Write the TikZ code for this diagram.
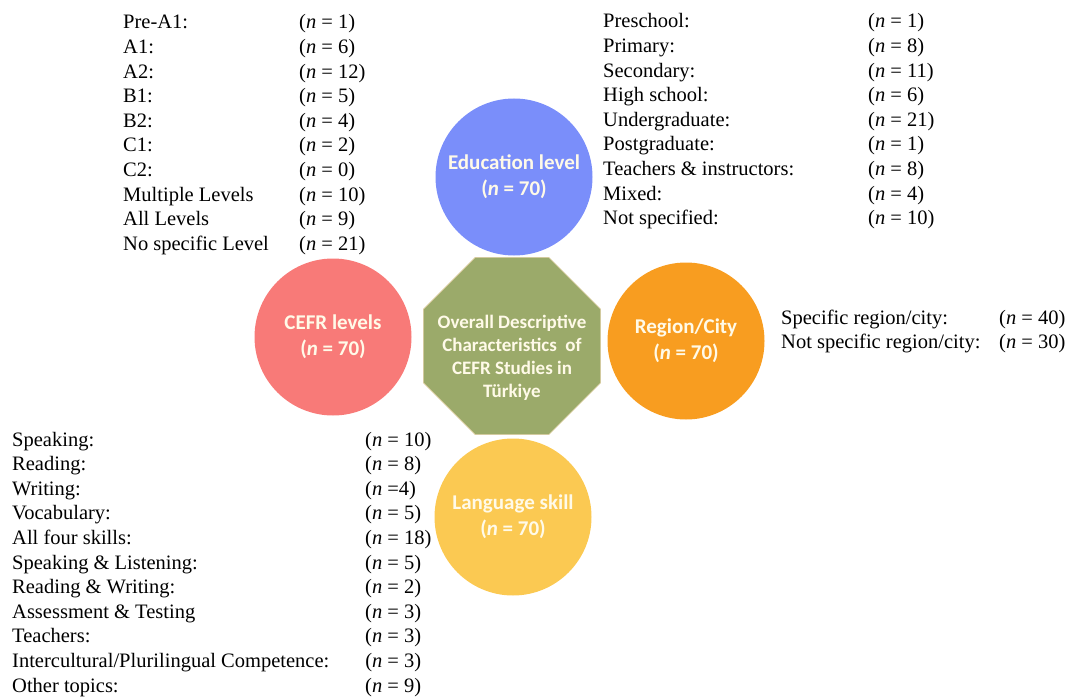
\documentclass[tikz,border=0pt]{standalone}
\usepackage{fontspec}
\setmainfont{Liberation Serif}
\newfontfamily\calfont{Carlito}
\usetikzlibrary{shapes.geometric}
\definecolor{edublue}{RGB}{122,142,250}
\definecolor{cefrred}{RGB}{248,122,120}
\definecolor{regorange}{RGB}{248,157,32}
\definecolor{skillyellow}{RGB}{251,201,82}
\definecolor{hubgreen}{RGB}{155,170,106}
\definecolor{hubedge}{RGB}{222,205,160}
\definecolor{bubbletext}{RGB}{255,250,232}
\newcommand\listfont{\fontsize{20.5}{24.6}\selectfont}
\newcommand\nval[1]{(\textit{n} = #1)}
\begin{document}
\begin{tikzpicture}[x=1pt,y=-1pt,
   bubble/.style={circle,inner sep=0pt,minimum size=157pt,text=bubbletext,align=center,
      font=\calfont\bfseries\fontsize{21}{26}\selectfont},
   listbox/.style={anchor=base west,inner sep=0pt,font=\listfont}]
   \useasboundingbox (0,0) rectangle (1077,698);
   % the four circles round the centre
   \node [bubble,fill=edublue] (edu) at (514,177) {Education level\\(\textit{n} = 70)};
   \node [bubble,fill=cefrred] (cefr) at (333,337) {CEFR levels\\(\textit{n} = 70)};
   \node [bubble,fill=regorange] (region) at (686,341) {Region/City\\(\textit{n} = 70)};
   \node [bubble,fill=skillyellow] (skill) at (513,517) {Language skill\\(\textit{n} = 70)};
   % centre octagon
   \node [regular polygon,regular polygon sides=8,minimum size=192pt,inner sep=0pt,
      fill=hubgreen,draw=hubedge,line width=0.6pt] (hub) at (512,346) {};
   \node [text=bubbletext,align=center,font=\calfont\bfseries\fontsize{19}{23}\selectfont]
      (hubtext) at ([yshift=-12pt]hub.center)
      {Overall Descriptive\\Characteristics\ \ of\\CEFR Studies in\\Türkiye};
   % CEFR levels
   \node [listbox] (levlist) at (123,29) {\begin{tabular}[t]{@{}p{176pt}@{}l@{}}
      Pre-A1: & \nval{1}\\
      A1: & \nval{6}\\
      A2: & \nval{12}\\
      B1: & \nval{5}\\
      B2: & \nval{4}\\
      C1: & \nval{2}\\
      C2: & \nval{0}\\
      Multiple Levels & \nval{10}\\
      All Levels & \nval{9}\\
      No specific Level & \nval{21}
   \end{tabular}};
   % education level
   \node [listbox] (edulist) at (603,28) {\begin{tabular}[t]{@{}p{265pt}@{}l@{}}
      Preschool: & \nval{1}\\
      Primary: & \nval{8}\\
      Secondary: & \nval{11}\\
      High school: & \nval{6}\\
      Undergraduate: & \nval{21}\\
      Postgraduate: & \nval{1}\\
      Teachers \& instructors: & \nval{8}\\
      Mixed: & \nval{4}\\
      Not specified: & \nval{10}
   \end{tabular}};
   % region/city
   \node [listbox] (reglist) at (781,324) {\begin{tabular}[t]{@{}p{218pt}@{}l@{}}
      Specific region/city: & \nval{40}\\
      Not specific region/city: & \nval{30}
   \end{tabular}};
   % language skill
   \node [listbox] (skilllist) at (12,446) {\begin{tabular}[t]{@{}p{353pt}@{}l@{}}
      Speaking: & \nval{10}\\
      Reading: & \nval{8}\\
      Writing: & (\textit{n} =4)\\
      Vocabulary: & \nval{5}\\
      All four skills: & \nval{18}\\
      Speaking \& Listening: & \nval{5}\\
      Reading \& Writing: & \nval{2}\\
      Assessment \& Testing & \nval{3}\\
      Teachers: & \nval{3}\\
      Intercultural/Plurilingual Competence: & \nval{3}\\
      Other topics: & \nval{9}
   \end{tabular}};
\end{tikzpicture}
\end{document}
